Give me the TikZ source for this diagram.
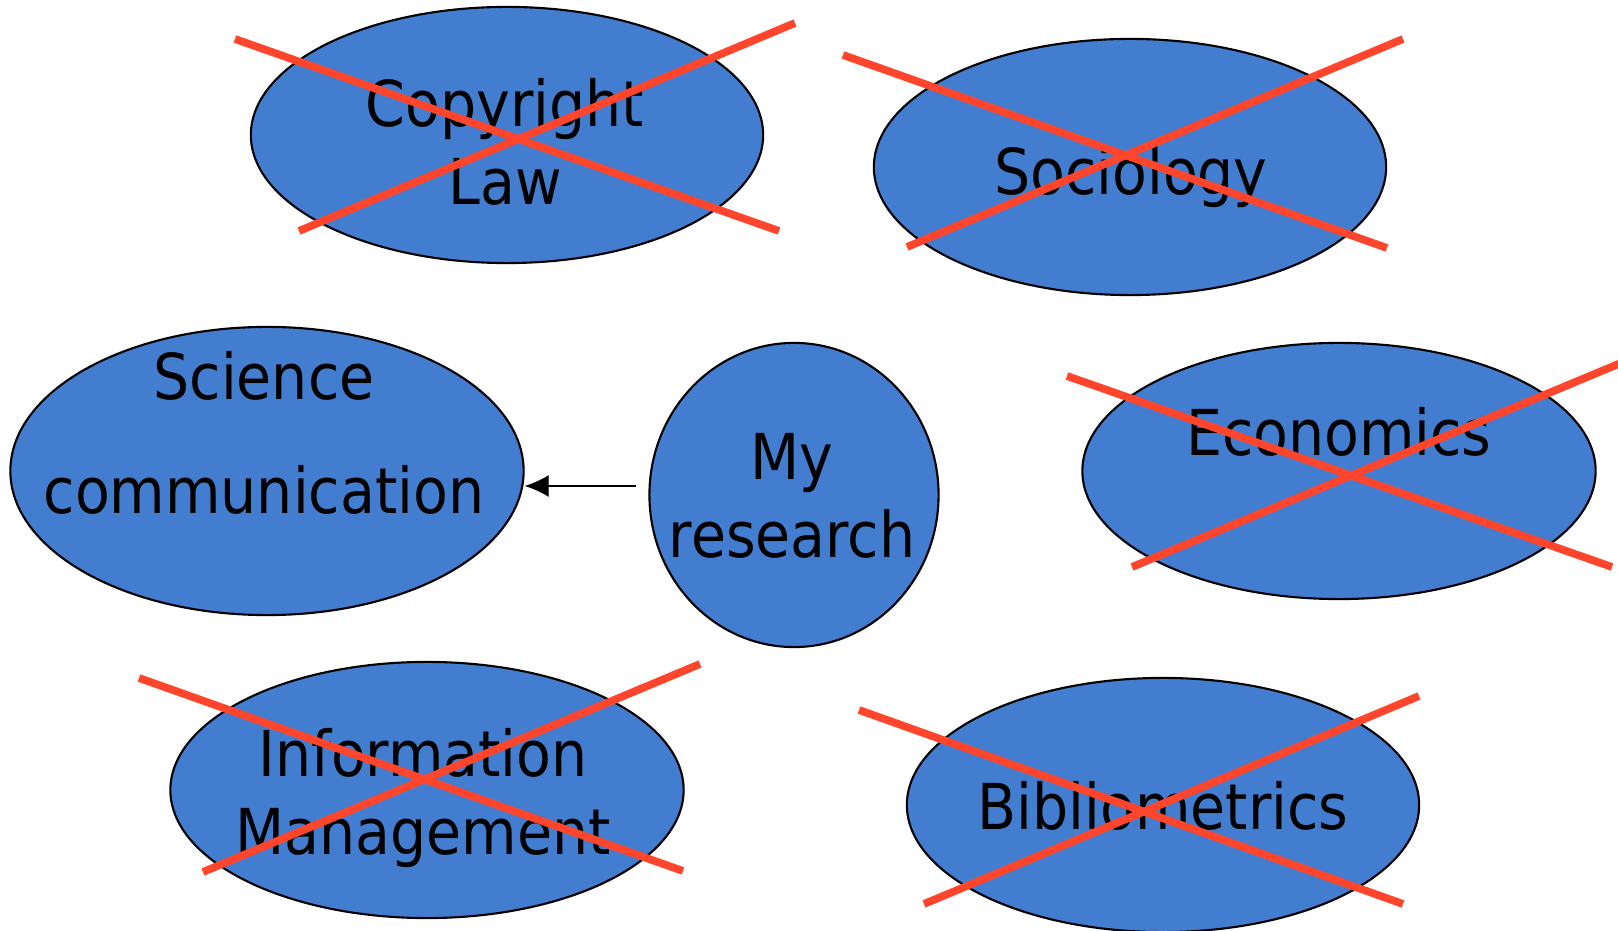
\documentclass[tikz,border=0pt]{standalone}
\usepackage{fontspec}
\setmainfont{DejaVu Sans Condensed}
\usetikzlibrary{shapes.geometric,arrows.meta}

\definecolor{blobblue}{RGB}{67,125,207}
\definecolor{crossred}{RGB}{255,70,45}

\tikzset{
  blob/.style={ellipse, draw=black, line width=0.6pt, fill=blobblue, inner sep=0pt},
  word/.style={align=center, inner sep=0pt, font=\fontsize{18pt}{22pt}\selectfont},
  strike/.style={draw=crossred, line width=2.2pt},
}

\begin{document}
\begin{tikzpicture}[x=0.01cm,y=-0.01cm]
  \useasboundingbox (0,0) rectangle (1618,931);

  % copyright law
  \node[blob, minimum width=5.12cm, minimum height=2.56cm] (law) at (507,135) {};
  \node[word] (lawtxt) at (505,142) {Copyright\\Law};
  \draw[strike] (235,39) -- (779,231);
  \draw[strike] (299,231) -- (795,23);

  % sociology
  \node[blob, minimum width=5.12cm, minimum height=2.56cm] (soc) at (1130,167) {};
  \node[word] (soctxt) at (1131,177) {Sociology};
  \draw[strike] (843,55) -- (1387,248);
  \draw[strike] (907,247) -- (1403,39);

  % science communication
  \node[blob, minimum width=5.13cm, minimum height=2.88cm] (sci) at (267,471) {};
  \node[word] (scitxt) at (264,433) {Science\\[0.37cm]communication};

  % my research
  \node[blob, minimum width=2.89cm, minimum height=3.04cm] (me) at (794,495) {};
  \node[word] (metxt) at (792,496) {My\\research};
  \coordinate (tail) at (636,486);
  \draw[-{Latex[length=2.4mm,width=2.2mm]}, line width=0.4pt] (tail) -- (tail -| sci.east);

  % economics
  \node[blob, minimum width=5.13cm, minimum height=2.56cm] (econ) at (1339,471) {};
  \node[word] (econtxt) at (1339,432) {Economics};
  \draw[strike] (1067,376) -- (1612,567);
  \draw[strike] (1132,567) -- (1628,360);

  % information management
  \node[blob, minimum width=5.13cm, minimum height=2.56cm] (info) at (427,790) {};
  \node[word] (infotxt) at (423,798) {Information\\Management};
  \draw[strike] (139,678) -- (683,871);
  \draw[strike] (203,872) -- (700,664);

  % bibliometrics
  \node[blob, minimum width=5.12cm, minimum height=2.54cm] (bib) at (1163,805) {};
  \node[word] (bibtxt) at (1163,806) {Bibliometrics};
  \draw[strike] (859,710) -- (1403,904);
  \draw[strike] (924,904) -- (1419,696);
\end{tikzpicture}
\end{document}
